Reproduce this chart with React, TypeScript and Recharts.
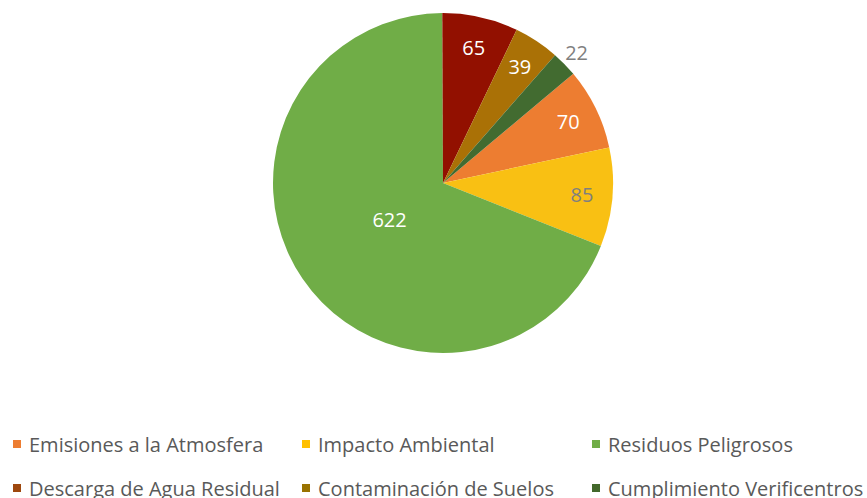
import { PieChart, Pie, Cell, Legend } from 'recharts';

const categories = [
  'Emisiones a la Atmosfera',
  'Impacto Ambiental',
  'Residuos Peligrosos',
  'Descarga de Agua Residual',
  'Contaminación de Suelos',
  'Cumplimiento Verificentros',
];
const values = [70, 85, 622, 65, 39, 22];

const sliceColors = ['#ED7D31', '#F9C013', '#70AD47', '#921000', '#AA7106', '#426B30'];
const legendColors = ['#ED7D31', '#FFC000', '#70AD47', '#9E480E', '#997300', '#43682B'];

const data = categories.map((name, i) => ({ name, value: values[i] }));
const total = values.reduce((a, b) => a + b, 0);

const FONT = '"Open Sans", sans-serif';
const TEXT = '#595959';
const RAD = Math.PI / 180;

// Excel "angle of first slice" = 50 deg
const firstSliceAngle = 50;

const renderLabel = (props: any) => {
  const { cx, cy, midAngle, outerRadius, value, index } = props;
  const share = value / total;
  let r = outerRadius * 0.82;
  let fill = '#FFFFFF';
  if (share > 0.5) r = outerRadius * 0.38;
  if (share < 0.03) {
    r = outerRadius * 1.1;
    fill = '#7F7F7F';
  }
  if (sliceColors[index] === '#F9C013') fill = '#7F7F7F';
  const x = cx + r * Math.cos(-midAngle * RAD);
  const y = cy + r * Math.sin(-midAngle * RAD);
  return (
    <text x={x} y={y} fill={fill} fontSize={20} fontFamily={FONT} textAnchor="middle" dominantBaseline="central">
      {value}
    </text>
  );
};

const legendCols = [13, 302, 592];
const legendRows = [444, 488];

const renderLegend = () => (
  <div style={{ position: 'relative', width: 867, height: 73 }}>
    {categories.map((name, i) => {
      const col = i % 3;
      const row = Math.floor(i / 3);
      return (
        <div
          key={name}
          style={{
            position: 'absolute',
            left: legendCols[col],
            top: legendRows[row] - 425 - 12,
            height: 24,
            display: 'flex',
            alignItems: 'center',
            whiteSpace: 'nowrap',
            fontFamily: FONT,
            fontSize: 20,
            color: TEXT,
          }}
        >
          <span style={{ width: 8, height: 8, background: legendColors[i], marginRight: 8, display: 'inline-block' }} />
          {name}
        </div>
      );
    })}
  </div>
);

export default function App() {
  return (
    <div style={{ position: 'absolute', left: 0, top: 0, width: 867, height: 498, background: '#FFFFFF', overflow: 'hidden' }}>
      <PieChart width={867} height={498} margin={{ top: 0, right: 0, bottom: 0, left: 0 }}>
        <Pie
          data={data}
          dataKey="value"
          nameKey="name"
          cx={443}
          cy={183}
          outerRadius={170}
          startAngle={90 - firstSliceAngle}
          endAngle={90 - firstSliceAngle - 360}
          stroke="none"
          label={renderLabel}
          labelLine={false}
          isAnimationActive={false}
        >
          {data.map((d, i) => (
            <Cell key={d.name} fill={sliceColors[i]} />
          ))}
        </Pie>
        <Legend
          content={renderLegend}
          wrapperStyle={{ position: 'absolute', left: 0, top: 425, width: 867, height: 73 }}
        />
      </PieChart>
    </div>
  );
}
